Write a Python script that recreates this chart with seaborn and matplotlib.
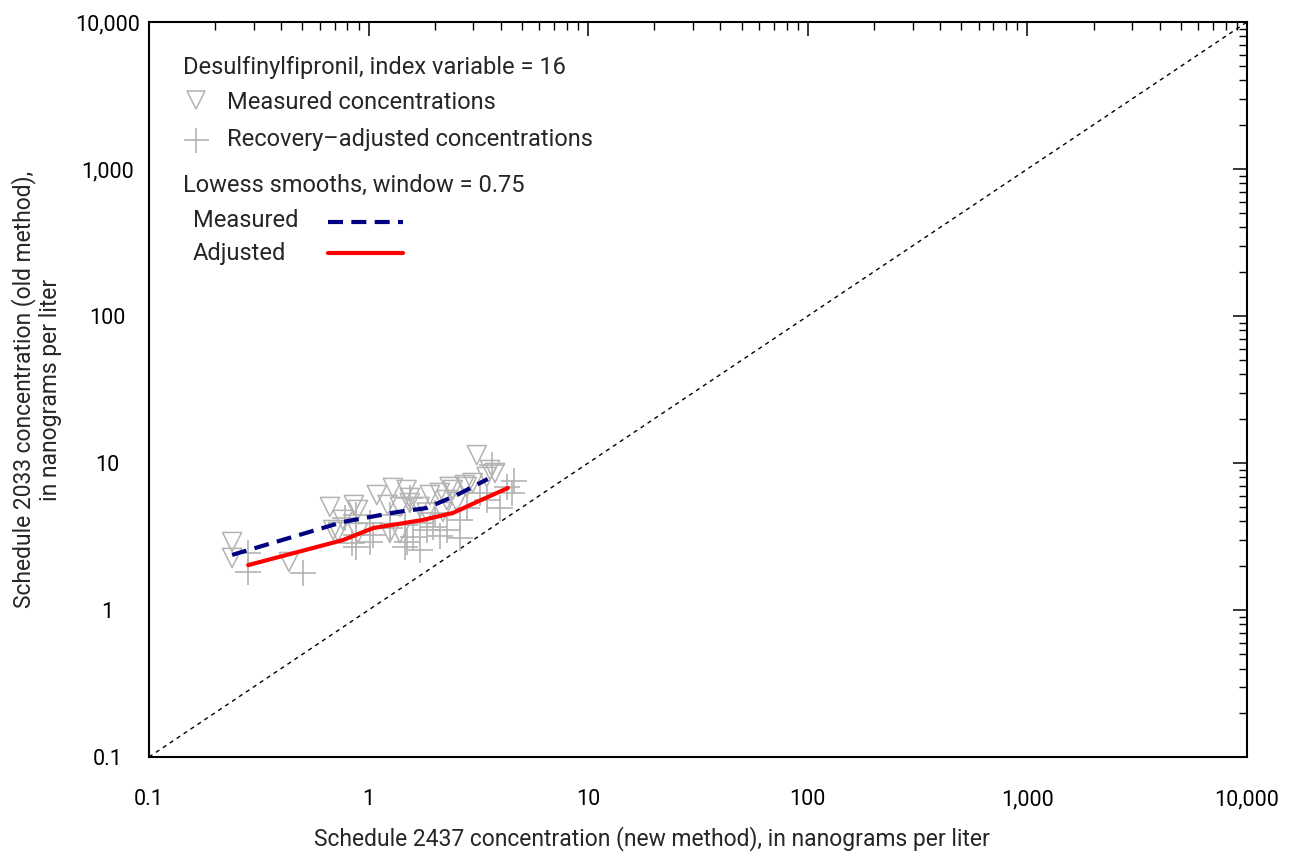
import numpy as np
import pandas as pd
import matplotlib
matplotlib.use("Agg")
import matplotlib.pyplot as plt
from matplotlib.ticker import LogLocator, FixedLocator, NullFormatter, FixedFormatter
import seaborn as sns

# Measured concentrations (new method x, old method y), ng/L
meas_x = [0.239, 0.239, 0.434, 0.667, 0.857, 0.894, 0.764, 0.725, 0.894, 1.09,
          1.29, 1.22, 1.39, 1.54, 1.25, 1.39, 1.71, 0.69, 1.49, 1.90,
          2.11, 2.42, 2.80, 3.45, 2.52, 2.18, 1.54, 3.11, 3.57, 3.76,
          2.98, 2.34, 2.74, 1.84, 2.27]
meas_y = [2.90, 2.26, 2.12, 5.02, 5.18, 4.79, 4.10, 3.39, 3.34, 6.05,
          6.76, 5.18, 5.02, 5.78, 3.34, 3.34, 5.02, 3.50, 6.55, 6.05,
          6.25, 6.55, 6.87, 8.03, 5.43, 4.64, 5.34, 11.3, 8.96, 8.55,
          7.31, 6.87, 7.08, 4.60, 5.60]

# Recovery-adjusted concentrations
adj_x = [0.283, 0.283, 0.502, 0.780, 0.839, 1.01, 1.01, 0.88, 0.88, 0.88,
         1.05, 1.25, 1.46, 1.46, 1.59, 1.71, 1.84, 1.54, 1.49, 1.71,
         1.96, 2.27, 2.60, 2.60, 2.80, 3.21, 3.96, 4.26, 4.49, 3.64,
         2.0, 1.25, 3.45, 4.60, 2.11]
adj_y = [2.44, 1.81, 1.78, 4.23, 2.86, 3.91, 2.90, 4.43, 3.24, 2.68,
         3.24, 4.43, 3.79, 2.68, 3.14, 2.56, 3.50, 5.78, 2.90, 3.91,
         3.67, 3.50, 3.09, 4.10, 4.94, 6.25, 4.94, 6.87, 6.25, 9.70,
         4.60, 3.60, 5.60, 7.50, 3.20]

# Lowess smooths (window = 0.75)
smooth_meas_x = [0.239, 0.764, 1.35, 1.84, 2.52, 3.49]
smooth_meas_y = [2.37, 3.97, 4.64, 4.94, 6.05, 7.78]
smooth_adj_x = [0.283, 0.764, 1.05, 1.77, 2.42, 3.11, 4.31]
smooth_adj_y = [2.02, 2.99, 3.61, 4.10, 4.57, 5.43, 6.76]

# Axis ticks
tick_vals = [0.1, 1, 10, 100, 1000, 10000]
tick_labels = ["0.1", "1", "10", "100", "1,000", "10,000"]

sns.set_theme(style="white")
plt.rcParams["font.family"] = ["Roboto", "DejaVu Sans"]

fig = plt.figure(figsize=(12.92, 8.58), dpi=100)
ax = fig.add_axes([0.1153, 0.1177, 0.8499, 0.8567])
ax.set_xscale("log")
ax.set_yscale("log")
ax.set_xlim(0.1, 10000)
ax.set_ylim(0.1, 10000)

# 1:1 reference line
ax.plot([0.1, 10000], [0.1, 10000], color="black", lw=1.0, ls=(0, (3, 3)))

gray = "#b3b3b3"
dash = (0, (3.6, 2))
meas = pd.DataFrame({"x": meas_x, "y": meas_y})
adj = pd.DataFrame({"x": adj_x, "y": adj_y})
sns.scatterplot(data=meas, x="x", y="y", marker="v", s=190, facecolors="none",
                edgecolors=gray, linewidths=1.1, ax=ax, zorder=3)
sns.scatterplot(data=adj, x="x", y="y", marker="+", s=330, color=gray,
                linewidths=1.2, ax=ax, zorder=3)

sm = pd.DataFrame({"x": smooth_meas_x, "y": smooth_meas_y})
sa = pd.DataFrame({"x": smooth_adj_x, "y": smooth_adj_y})
sns.lineplot(data=sm, x="x", y="y", sort=False, estimator=None, color="#000080",
             lw=3, ax=ax, zorder=4, dashes=False, linestyle=dash)
sns.lineplot(data=sa, x="x", y="y", sort=False, estimator=None, color="#ff0000",
             lw=3, ax=ax, zorder=4)

ax.xaxis.set_major_locator(FixedLocator(tick_vals))
ax.xaxis.set_major_formatter(FixedFormatter(tick_labels))
ax.yaxis.set_major_locator(FixedLocator(tick_vals))
ax.yaxis.set_major_formatter(FixedFormatter(tick_labels))
ax.xaxis.set_minor_locator(LogLocator(base=10, subs=np.arange(2, 10), numticks=20))
ax.yaxis.set_minor_locator(LogLocator(base=10, subs=np.arange(2, 10), numticks=20))
ax.xaxis.set_minor_formatter(NullFormatter())
ax.yaxis.set_minor_formatter(NullFormatter())
ax.tick_params(which="both", direction="in", top=True, right=True, colors="black",
               labelsize=15.5)
ax.tick_params(which="major", length=10, width=1.1)
ax.tick_params(which="minor", length=6, width=1.0)
ax.tick_params(axis="x", which="major", pad=23)
ax.tick_params(axis="y", which="major", pad=30)
for lab in ax.get_yticklabels():
    lab.set_horizontalalignment("center")
for s in ax.spines.values():
    s.set_color("black")
    s.set_linewidth(1.5)

ax.set_xlabel("Schedule 2437 concentration (new method), in nanograms per liter",
              fontsize=16.5, va="top")
ax.set_ylabel("Schedule 2033 concentration (old method),\nin nanograms per liter",
              fontsize=16.5)
ax.xaxis.set_label_coords(0.458, -0.094)
ax.yaxis.set_label_coords(-0.079, 0.5)

# Key
fs = 17
t = ax.transAxes
def ax_pos(px, py):
    return ((px - 149) / 1098.0, (757 - py) / 735.0)

ax.text(*ax_pos(183, 68), "Desulfinylfipronil, index variable = 16", transform=t,
        fontsize=fs, va="center", ha="left")
ax.plot(*ax_pos(196, 100), marker="v", ms=13, mfc="none", mec=gray, mew=1.1,
        transform=t, clip_on=False)
ax.text(*ax_pos(227, 103), "Measured concentrations", transform=t, fontsize=fs,
        va="center", ha="left")
ax.plot(*ax_pos(196, 140), marker="+", ms=18, mec=gray, mew=1.2, transform=t,
        clip_on=False)
ax.text(*ax_pos(227, 140), "Recovery\u2013adjusted concentrations", transform=t,
        fontsize=fs, va="center", ha="left")
ax.text(*ax_pos(183, 185), "Lowess smooths, window = 0.75", transform=t,
        fontsize=fs, va="center", ha="left")
ax.text(*ax_pos(193, 221), "Measured", transform=t, fontsize=fs, va="center", ha="left")
ax.text(*ax_pos(193, 254), "Adjusted", transform=t, fontsize=fs, va="center", ha="left")
x0, y0 = ax_pos(328, 222)
x1, _ = ax_pos(403, 222)
ax.plot([x0, x1], [y0, y0], color="#000080", lw=3, ls=dash, transform=t)
x0, y0 = ax_pos(328, 253)
ax.plot([x0, x1], [y0, y0], color="#ff0000", lw=3, transform=t)

fig.savefig("out.png", dpi=100)
